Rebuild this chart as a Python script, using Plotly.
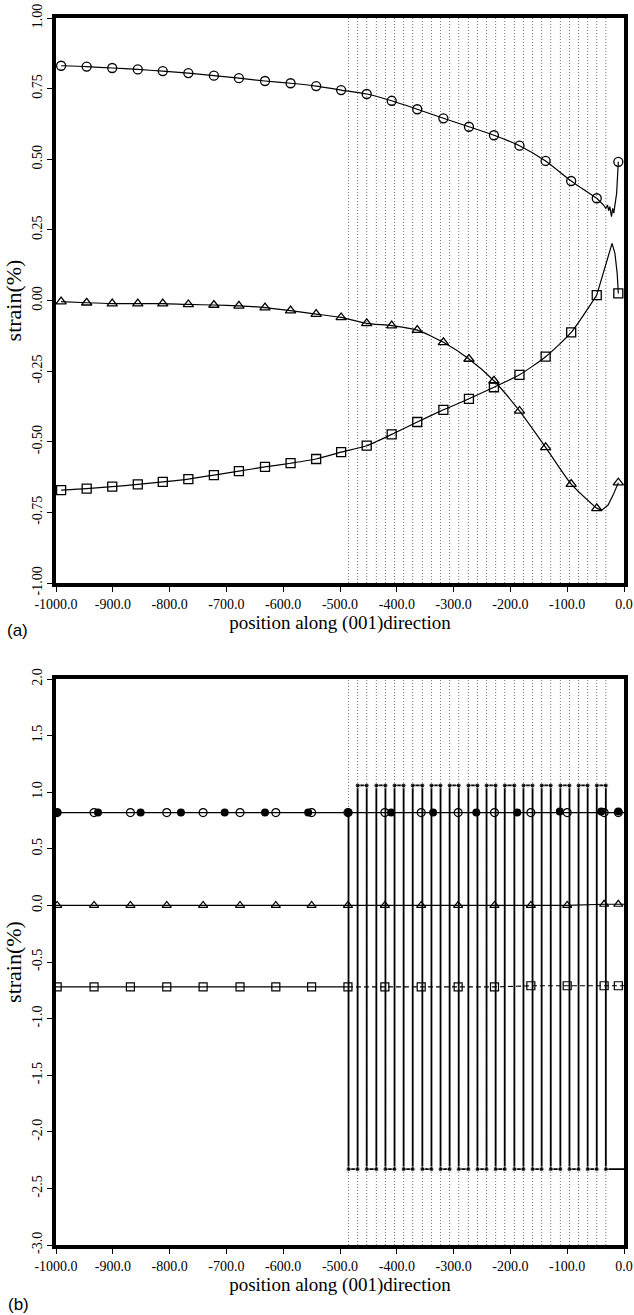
import plotly.graph_objects as go

# ---------------- Panel (a) data ----------------
pos_a = [-991, -946, -901, -856, -812, -767, -722, -678, -632, -587, -542,
         -498, -453, -409, -364, -318, -273, -229, -184, -138, -93, -48, -10]
circ_a = [0.831, 0.828, 0.823, 0.818, 0.812, 0.805, 0.796, 0.787, 0.777, 0.769, 0.759,
          0.745, 0.731, 0.707, 0.677, 0.645, 0.615, 0.585, 0.548, 0.494, 0.423, 0.362, 0.491]
tri_a = [-0.004, -0.008, -0.011, -0.011, -0.011, -0.014, -0.016, -0.019, -0.025, -0.036, -0.048,
         -0.060, -0.081, -0.089, -0.105, -0.148, -0.207, -0.284, -0.391, -0.520, -0.650, -0.736, -0.645]
sq_a = [-0.671, -0.666, -0.659, -0.651, -0.642, -0.632, -0.618, -0.604, -0.589, -0.576, -0.561,
        -0.537, -0.514, -0.474, -0.430, -0.387, -0.348, -0.307, -0.263, -0.199, -0.113, 0.019, 0.025]

# extra curve points near the surface (between the last two markers)
circ_a_fine_x = [-36, -32, -29, -27, -25, -22, -20, -18, -15, -13]
circ_a_fine_y = [0.338, 0.326, 0.338, 0.318, 0.332, 0.297, 0.326, 0.309, 0.344, 0.379]
tri_a_fine_x = [-39, -28, -19]
tri_a_fine_y = [-0.742, -0.724, -0.688]
sq_a_fine_x = [-36, -28, -21, -16, -12]
sq_a_fine_y = [0.096, 0.155, 0.202, 0.167, 0.096]

# layer boundaries of the superlattice region (dotted lines)
layer_bounds = [-485, -469, -453, -436, -420, -404, -388, -372, -355, -339, -323, -307,
                -291, -274, -258, -242, -226, -210, -193, -177, -161, -145, -129, -112,
                -96, -80, -64, -48, -32]

# ---------------- Panel (b) data ----------------
pos_b = [-998, -933, -869, -805, -741, -676, -613, -550, -486, -421, -357, -292,
         -228, -164, -100, -35, -10]
circ_b = [0.82, 0.82, 0.82, 0.82, 0.82, 0.82, 0.82, 0.82, 0.82, 0.82, 0.82, 0.82,
          0.82, 0.82, 0.82, 0.82, 0.82]
tri_b = [0.0, 0.0, 0.0, 0.0, 0.0, 0.0, 0.0, 0.0, 0.0, 0.0, 0.0, 0.0,
         0.0, 0.0, 0.0, 0.01, 0.01]
sq_b = [-0.72, -0.72, -0.72, -0.72, -0.72, -0.72, -0.72, -0.72, -0.72, -0.72, -0.72, -0.72,
        -0.72, -0.71, -0.71, -0.71, -0.71]
filled_pos_b = [-998, -926, -851, -780, -703, -632, -556, -485, -410, -336, -260, -188,
                -113, -40, -10]
filled_b = [0.82, 0.82, 0.82, 0.82, 0.82, 0.82, 0.82, 0.82, 0.82, 0.82, 0.82, 0.82,
            0.83, 0.83, 0.83]
wave_start_level = 0.82
wave_high = 1.06
wave_low = -2.33

# ---------------- ticks ----------------
x_ticks = [-1000, -900, -800, -700, -600, -500, -400, -300, -200, -100, 0]
x_ticklabels = ["-1000.0", "-900.0", "-800.0", "-700.0", "-600.0", "-500.0",
                "-400.0", "-300.0", "-200.0", "-100.0", "0.0"]
ya_ticks = [-1.0, -0.75, -0.5, -0.25, 0.0, 0.25, 0.5, 0.75, 1.0]
ya_ticklabels = ["-1.00", "-0.75", "-0.50", "-0.25", "0.00", "0.25", "0.50", "0.75", "1.00"]
yb_ticks = [-3.0, -2.5, -2.0, -1.5, -1.0, -0.5, 0.0, 0.5, 1.0, 1.5, 2.0]
yb_ticklabels = ["-3.0", "-2.5", "-2.0", "-1.5", "-1.0", "-0.5", "0.0", "0.5", "1.0", "1.5", "2.0"]

x_title = "position along (001)direction"
y_title = "strain(%)"

# ---------------- figure ----------------
W, H = 634, 1315
SERIF = "Liberation Serif"
fig = go.Figure()


def split_at(xs, ys, fx, fy, cut):
    """main smooth part (x <= cut) and near-surface part (x >= cut)."""
    pts = sorted(zip(list(xs) + list(fx), list(ys) + list(fy)))
    main = [p for p in pts if p[0] <= cut]
    tail = [p for p in pts if p[0] >= cut]
    return ([p[0] for p in main], [p[1] for p in main],
            [p[0] for p in tail], [p[1] for p in tail])


def grid_trace(bounds, y0, y1, xa, ya):
    gx, gy = [], []
    for b in bounds:
        gx += [b, b, None]
        gy += [y0, y1, None]
    return go.Scatter(x=gx, y=gy, mode="lines", xaxis=xa, yaxis=ya,
                      line=dict(color="#666666", width=0.9, dash="1px,2px"),
                      hoverinfo="skip", showlegend=False)


# panel (a) dotted layer lines
fig.add_trace(grid_trace(layer_bounds, -1, 1, "x", "y"))

cut_x = pos_a[-2]
for vals, fx, fy, sym in [(circ_a, circ_a_fine_x, circ_a_fine_y, "circle-open"),
                          (tri_a, tri_a_fine_x, tri_a_fine_y, "triangle-up-open"),
                          (sq_a, sq_a_fine_x, sq_a_fine_y, "square-open")]:
    mx, my, tx, ty = split_at(pos_a, vals, fx, fy, cut_x)
    fig.add_trace(go.Scatter(x=mx, y=my, mode="lines", xaxis="x", yaxis="y",
                             line=dict(color="black", width=1.2, shape="spline", smoothing=0.6),
                             showlegend=False, cliponaxis=False))
    fig.add_trace(go.Scatter(x=tx, y=ty, mode="lines", xaxis="x", yaxis="y",
                             line=dict(color="black", width=1.2),
                             showlegend=False, cliponaxis=False))
    fig.add_trace(go.Scatter(x=pos_a, y=vals, mode="markers", xaxis="x", yaxis="y",
                             marker=dict(symbol=sym, size=9, color="black",
                                         line=dict(color="black", width=1.3)),
                             showlegend=False, cliponaxis=False))

# panel (b) dotted layer lines
fig.add_trace(grid_trace(layer_bounds, -3, 2, "x2", "y2"))

# square wave of the superlattice strain
wx, wy, ws = [], [], []
for i, b in enumerate(layer_bounds):
    if i == 0:
        prev, new = wave_start_level, wave_low
    elif i % 2 == 1:
        prev, new = wave_low, wave_high
    else:
        prev, new = wave_high, wave_low
    wx += [b, b]
    wy += [prev, new]
    ws += [0 if i == 0 else 5, 5]
wx.append(0)
wy.append(wave_low)
ws.append(0)
fig.add_trace(go.Scatter(x=wx, y=wy, mode="lines+markers", xaxis="x2", yaxis="y2",
                         line=dict(color="black", width=1.8),
                         marker=dict(symbol="circle", size=ws, color="black"),
                         showlegend=False, cliponaxis=False))

# horizontal series in panel (b)
fig.add_trace(go.Scatter(x=[-1000] + pos_b + [0], y=[circ_b[0]] + circ_b + [circ_b[-1]],
                         mode="lines", xaxis="x2", yaxis="y2",
                         line=dict(color="black", width=1.4), showlegend=False))
fig.add_trace(go.Scatter(x=[-1000] + pos_b + [0], y=[tri_b[0]] + tri_b + [tri_b[-1]],
                         mode="lines", xaxis="x2", yaxis="y2",
                         line=dict(color="black", width=1.2), showlegend=False))
left_idx = [i for i, p in enumerate(pos_b) if p <= layer_bounds[0]]
right_idx = [i for i, p in enumerate(pos_b) if p > layer_bounds[0]]
sq_left_x = [-1000] + [pos_b[i] for i in left_idx]
sq_left_y = [sq_b[0]] + [sq_b[i] for i in left_idx]
sq_right_x = [pos_b[left_idx[-1]]] + [pos_b[i] for i in right_idx] + [0]
sq_right_y = [sq_b[left_idx[-1]]] + [sq_b[i] for i in right_idx] + [sq_b[-1]]
fig.add_trace(go.Scatter(x=sq_left_x, y=sq_left_y, mode="lines", xaxis="x2", yaxis="y2",
                         line=dict(color="black", width=1.2), showlegend=False))
fig.add_trace(go.Scatter(x=sq_right_x, y=sq_right_y, mode="lines", xaxis="x2", yaxis="y2",
                         line=dict(color="black", width=1.2, dash="5px,3px"), showlegend=False))

for ys, sym in [(circ_b, "circle-open"), (tri_b, "triangle-up-open"), (sq_b, "square-open")]:
    fig.add_trace(go.Scatter(x=pos_b, y=ys, mode="markers", xaxis="x2", yaxis="y2",
                             marker=dict(symbol=sym, size=8, color="black",
                                         line=dict(color="black", width=1.2)),
                             showlegend=False, cliponaxis=False))
fig.add_trace(go.Scatter(x=filled_pos_b, y=filled_b, mode="markers", xaxis="x2", yaxis="y2",
                         marker=dict(symbol="circle", size=8, color="black"),
                         showlegend=False, cliponaxis=False))

# ---------------- axes ----------------
xdom = [56 / W, 624 / W]
ya_dom = [1 - 583 / H, 1 - 18 / H]
yb_dom = [1 - 1245 / H, 1 - 679 / H]

tickfont = dict(family=SERIF, size=14, color="black")
common = dict(showline=True, linecolor="black", linewidth=3.5, mirror=True,
              ticks="outside", ticklen=5, tickwidth=1, tickcolor="black",
              showgrid=False, zeroline=False, tickfont=tickfont)

xcommon = dict(common, range=[-1000, 0], tickmode="array", tickvals=x_ticks,
               ticktext=x_ticklabels, domain=xdom,
               title=dict(text=x_title, font=dict(family=SERIF, size=19, color="black"),
                          standoff=2))

ytitle = dict(text=y_title, font=dict(family=SERIF, size=22, color="black"), standoff=3)

fig.update_layout(
    width=W, height=H,
    margin=dict(l=0, r=0, t=0, b=0),
    paper_bgcolor="white", plot_bgcolor="white",
    template="none",
    showlegend=False,
    xaxis=dict(xcommon, anchor="y"),
    yaxis=dict(common, range=[-1, 1], tickmode="array", tickvals=ya_ticks,
               ticktext=ya_ticklabels, tickangle=-90, domain=ya_dom, anchor="x",
               title=ytitle),
    xaxis2=dict(xcommon, anchor="y2"),
    yaxis2=dict(common, range=[-3, 2], tickmode="array", tickvals=yb_ticks,
                ticktext=yb_ticklabels, tickangle=-90, domain=yb_dom, anchor="x2",
                title=ytitle),
    annotations=[
        dict(text="(a)", x=5 / W, y=1 - 630 / H, xref="paper", yref="paper",
             showarrow=False, xanchor="left", yanchor="middle",
             font=dict(family="Liberation Sans", size=17, color="black")),
        dict(text="(b)", x=6 / W, y=1 - 1304 / H, xref="paper", yref="paper",
             showarrow=False, xanchor="left", yanchor="middle",
             font=dict(family="Liberation Sans", size=17, color="black")),
    ],
)

# remove the browser's default 8px body margin so the figure fills the window exactly
fig.write_html("out.html",
               config={"displayModeBar": False},
               post_script="document.body.style.margin='0';document.body.style.overflow='hidden';")
